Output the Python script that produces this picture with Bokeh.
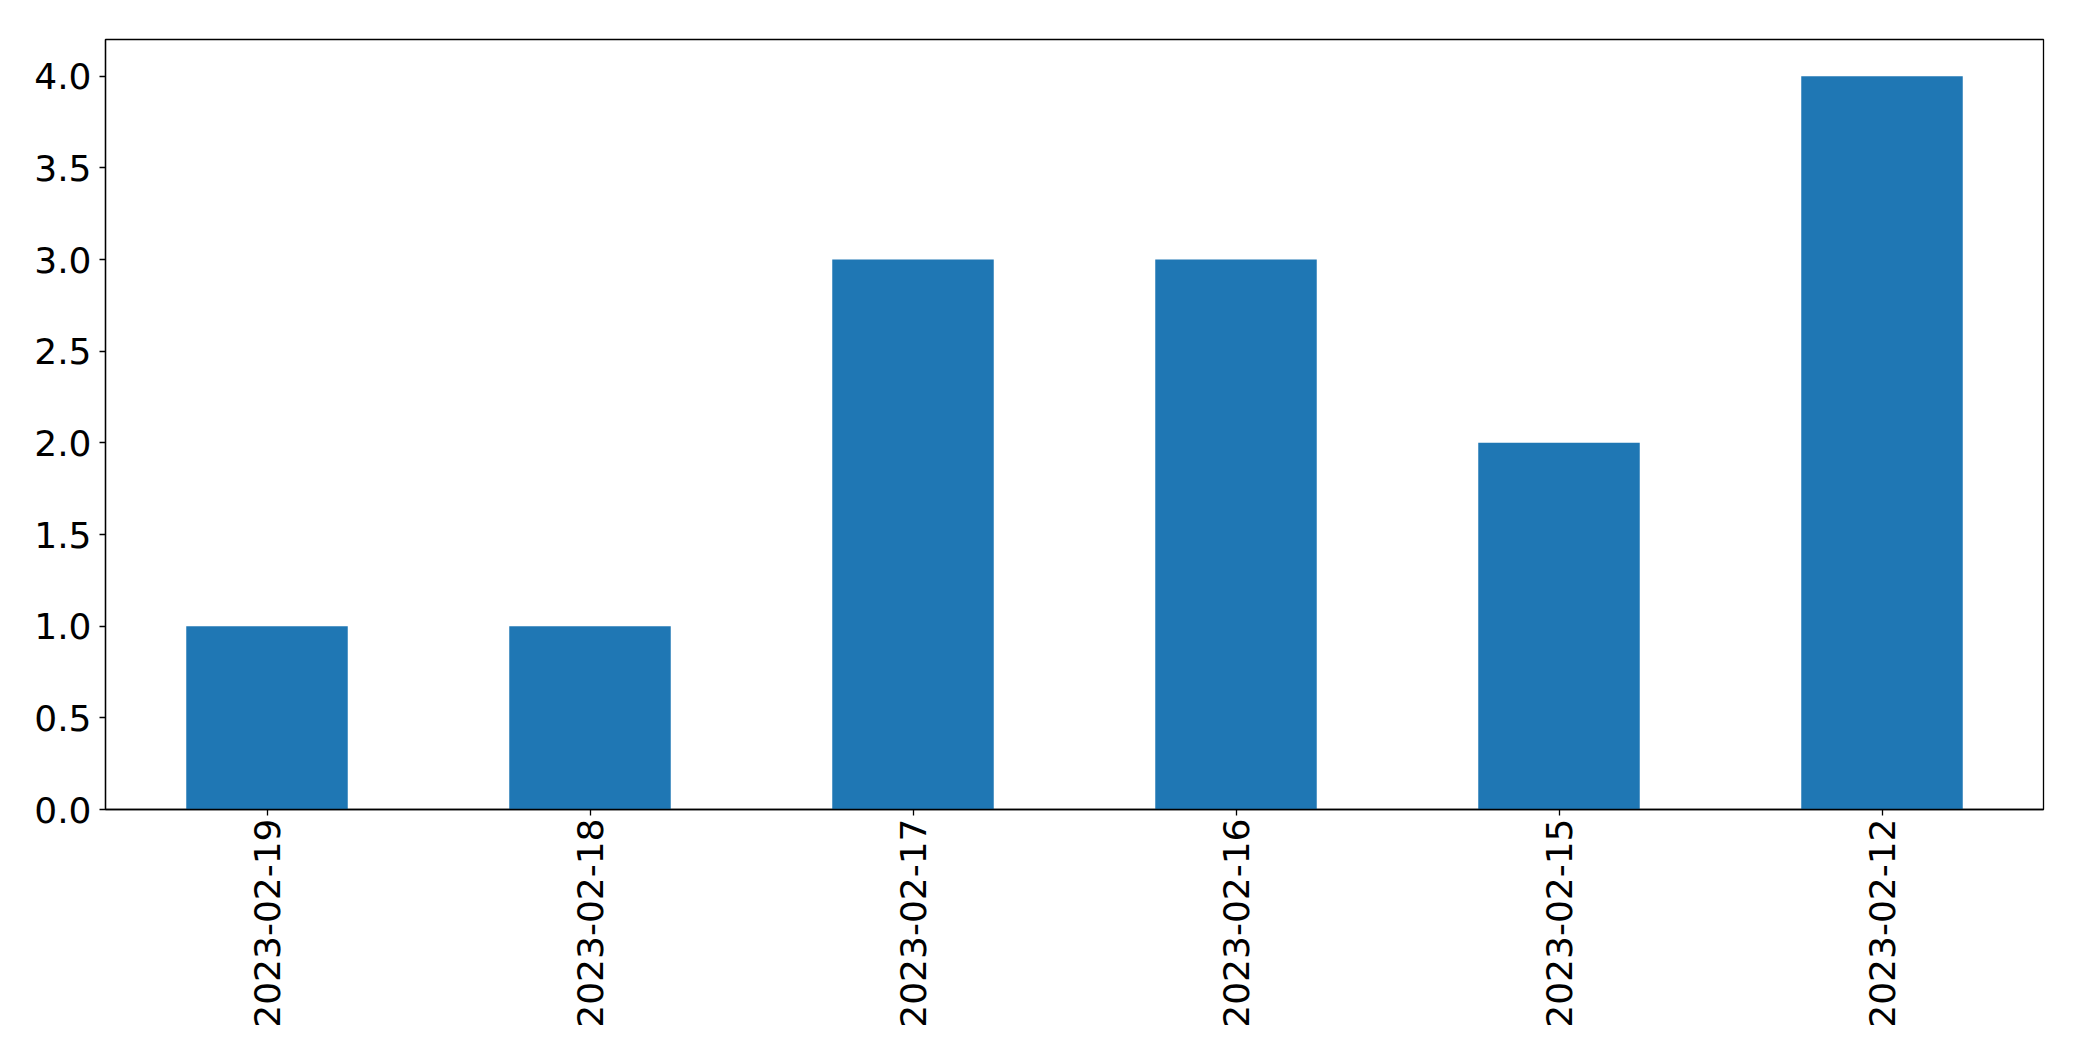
import math
from bokeh.plotting import figure
from bokeh.models import FixedTicker, NumeralTickFormatter, Range1d
from bokeh.embed import file_html
from bokeh.resources import INLINE

dates = ["2023-02-19", "2023-02-18", "2023-02-17", "2023-02-16", "2023-02-15", "2023-02-12"]
counts = [1, 1, 3, 3, 2, 4]
y_ticks = [0.0, 0.5, 1.0, 1.5, 2.0, 2.5, 3.0, 3.5, 4.0]

p = figure(x_range=dates, y_range=Range1d(0, 4.2), width=2074, height=1053,
           output_backend="svg", toolbar_location=None,
           min_border_left=105, min_border_top=39, min_border_right=31, min_border_bottom=244)
p.x_range.range_padding = 0
p.vbar(x=dates, top=counts, width=0.5, color="#1f77b4", line_color=None)

p.xgrid.visible = False
p.ygrid.visible = False
p.outline_line_color = "black"
p.outline_line_width = 1.3
p.outline_line_alpha = 1

for ax in (p.xaxis, p.yaxis):
    ax.axis_line_color = "black"
    ax.axis_line_width = 1.3
    ax.major_tick_line_color = "black"
    ax.major_tick_line_width = 1.3
    ax.major_tick_out = 6
    ax.major_tick_in = 0
    ax.minor_tick_line_color = None
    ax.major_label_text_font = "DejaVu Sans"
    ax.major_label_text_font_size = "36px"
    ax.major_label_text_color = "black"
    ax.major_label_standoff = 8

p.yaxis.ticker = FixedTicker(ticks=y_ticks)
p.yaxis.formatter = NumeralTickFormatter(format="0.0")
p.xaxis.major_label_orientation = math.pi / 2
p.xaxis.major_label_standoff = 3

open("out.html", "w").write(file_html(p, INLINE))
